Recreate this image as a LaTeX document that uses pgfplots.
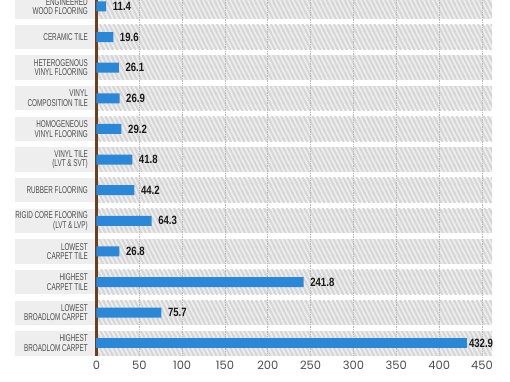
\documentclass[border=0pt]{standalone}
\usepackage{pgfplots}
\pgfplotsset{compat=1.18}
\usetikzlibrary{patterns}
\usepackage{fontspec}
\setmainfont{Liberation Sans}
\newfontfamily\condfont[FakeStretch=0.64]{Liberation Sans}
\newfontfamily\valfont[FakeStretch=0.8]{Liberation Sans Bold}
\newfontfamily\tickfont{Poppins}
\definecolor{barblue}{RGB}{43,136,216}
\definecolor{axbrown}{RGB}{105,65,30}
\definecolor{bandgray}{RGB}{238,238,238}
\definecolor{stripegray}{RGB}{214,214,214}
\definecolor{labgray}{RGB}{75,75,75}
\pgfdeclarepatternformonly{steepstripes}{\pgfpoint{-1bp}{-1bp}}{\pgfpoint{5.5bp}{10bp}}{\pgfpoint{4.5bp}{9bp}}{%
  \pgfsetlinewidth{2bp}%
  \pgfpathmoveto{\pgfpoint{0bp}{9bp}}\pgfpathlineto{\pgfpoint{4.5bp}{0bp}}%
  \pgfpathmoveto{\pgfpoint{-1bp}{2bp}}\pgfpathlineto{\pgfpoint{0.5bp}{-1bp}}%
  \pgfpathmoveto{\pgfpoint{4bp}{10bp}}\pgfpathlineto{\pgfpoint{5.5bp}{7bp}}%
  \pgfusepath{stroke}}
\begin{document}
\begin{tikzpicture}
\begin{axis}[
  at={(0,26bp)}, anchor=south west,
  scale only axis, width=510bp, height=356bp,
  xmin=-112.6, xmax=482.7,
  ymin=-0.209, ymax=11.414,
  y dir=reverse,
  axis on top,
  axis line style={draw=none},
  major tick length=0pt,
  xtick={0,50,...,450},
  ytick={0,...,11},
  yticklabels={{ENGINEERED\\WOOD FLOORING},{CERAMIC TILE},{HETEROGENOUS\\VINYL FLOORING},{VINYL\\COMPOSITION TILE},{HOMOGENEOUS\\VINYL FLOORING},{VINYL TILE\\(LVT \& SVT)},{RUBBER FLOORING},{RIGID CORE FLOORING\\(LVT \& LVP)},{LOWEST\\CARPET TILE},{HIGHEST\\CARPET TILE},{LOWEST\\BROADLOM CARPET},{HIGHEST\\BROADLOM CARPET}},
  yticklabel style={font=\condfont\fontsize{9.9bp}{9.6bp}\selectfont, text=labgray, align=right, anchor=east, inner sep=0pt, xshift=88bp},
  xticklabel style={font=\tickfont\fontsize{11.5bp}{13bp}\selectfont, text=labgray, yshift=-2bp},
  /pgf/number format/assume math mode=true,
  xbar, bar width=10bp, bar shift=0pt,
  nodes near coords,
  nodes near coords style={font=\valfont\fontsize{12bp}{13bp}\selectfont, text=black!90, anchor=west, inner sep=0pt},
  point meta=explicit symbolic,
]
\pgfplotsinvokeforeach{0,...,11}{
  \fill[bandgray] (axis cs:-95.1,#1-0.398) rectangle (axis cs:0,#1+0.398);
  \fill[bandgray] (axis cs:0,#1-0.398) rectangle (axis cs:461.7,#1+0.398);
  \fill[pattern=steepstripes, pattern color=stripegray] (axis cs:0,#1-0.398) rectangle (axis cs:461.7,#1+0.398);
}
\pgfplotsinvokeforeach{50,100,...,450}{
  \draw[gray!55, densely dotted, line width=0.7bp] (axis cs:#1,-0.209) -- (axis cs:#1,11.414);
}
\draw[axbrown, line width=2.5bp] (axis cs:0,-0.209) -- (axis cs:0,11.43);
\addplot[fill=barblue, draw=none, nodes near coords style={xshift=6.5bp}] coordinates {
  (11.4,0) [11.4]
  (19.6,1) [19.6]
  (26.1,2) [26.1]
  (26.9,3) [26.9]
  (29.2,4) [29.2]
  (41.8,5) [41.8]
  (44.2,6) [44.2]
  (64.3,7) [64.3]
  (26.8,8) [26.8]
  (241.8,9) [241.8]
  (75.7,10) [75.7]
};
\addplot[fill=barblue, draw=none, nodes near coords style={xshift=1.5bp}] coordinates {
  (432.9,11) [432.9]
};
\end{axis}
\pgfresetboundingbox
\useasboundingbox (0,0) rectangle (510bp,382bp);
\end{tikzpicture}
\end{document}
